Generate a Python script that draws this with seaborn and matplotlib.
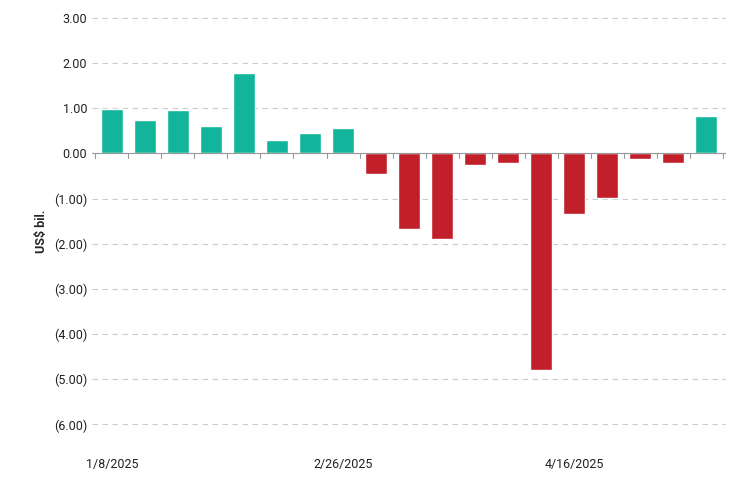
import pandas as pd
import matplotlib.pyplot as plt
import seaborn as sns

dates = ["1/8/2025", "1/15/2025", "1/22/2025", "1/29/2025", "2/5/2025", "2/12/2025", "2/19/2025",
         "2/26/2025", "3/5/2025", "3/12/2025", "3/19/2025", "3/26/2025", "4/2/2025", "4/9/2025",
         "4/16/2025", "4/23/2025", "4/30/2025", "5/7/2025", "5/14/2025"]
flows = [0.99, 0.73, 0.97, 0.60, 1.79, 0.29, 0.46, 0.57, -0.46, -1.68, -1.90, -0.26, -0.22,
         -4.79, -1.35, -0.99, -0.13, -0.22, 0.82]
shown_ticks = ["1/8/2025", "2/26/2025", "4/16/2025"]

df = pd.DataFrame({"date": dates, "flow": flows})
df["sign"] = ["pos" if v >= 0 else "neg" for v in flows]

sns.set_style("white")
plt.rcParams["font.family"] = ["Roboto", "DejaVu Sans"]

fig, ax = plt.subplots(figsize=(7.37, 4.8), dpi=100)
sns.barplot(data=df, x="date", y="flow", hue="sign", dodge=False, legend=False, saturation=1,
            palette={"pos": "#12b59b", "neg": "#c1202a"}, width=0.68, ax=ax, zorder=3)

ax.set_ylim(-6.55, 3.1)
ax.set_yticks([3, 2, 1, 0, -1, -2, -3, -4, -5, -6])
ax.set_yticklabels([f"{v:.2f}" if v >= 0 else f"({-v:.2f})" for v in [3, 2, 1, 0, -1, -2, -3, -4, -5, -6]])
ax.grid(axis="y", color="#cccccc", linestyle=(0, (5, 4)), linewidth=0.8, zorder=0)
ax.axhline(0, color="#999999", linewidth=0.8, zorder=4)
for i in range(len(dates) + 1):
    ax.plot([i - 0.5, i - 0.5], [0, -0.1], color="#999999", linewidth=0.8, zorder=4)

ax.set_xticks([dates.index(d) for d in shown_ticks])
ax.set_xticklabels(shown_ticks)
ax.tick_params(axis="both", length=0, labelsize=9, colors="#222222")
ax.tick_params(axis="x", pad=6)
ax.set_xlabel("")
ax.set_ylabel("US$ bil.", fontsize=9, fontweight="bold")
ax.set_xlim(-0.6, len(dates) - 0.4)
sns.despine(ax=ax, left=True, bottom=True)

plt.subplots_adjust(left=0.125, right=0.985, top=0.972, bottom=0.064)
fig.savefig("out.png")
